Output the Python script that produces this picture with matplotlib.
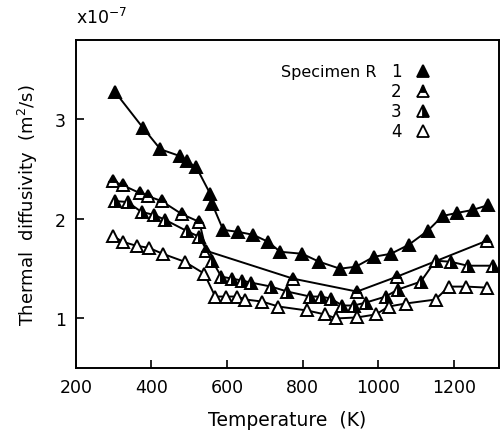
import numpy as np
import matplotlib.pyplot as plt

plt.rcParams['font.family'] = ['DejaVu Sans']

# thermal diffusivity (x1e-7 m^2/s) vs temperature (K) for four specimens
t1 = [303, 379, 424, 477, 493, 519, 556, 561, 590, 630, 670, 709, 741, 799, 844,
      899, 941, 989, 1034, 1081, 1131, 1171, 1208, 1250, 1292]
d1 = [3.28, 2.91, 2.70, 2.63, 2.58, 2.52, 2.25, 2.15, 1.89, 1.87, 1.84, 1.77, 1.67,
      1.65, 1.57, 1.50, 1.52, 1.62, 1.65, 1.74, 1.88, 2.03, 2.06, 2.09, 2.14]

t2 = [298, 324, 369, 390, 427, 480, 527, 545, 775, 944, 1050, 1287]
d2 = [2.38, 2.34, 2.26, 2.23, 2.18, 2.05, 1.97, 1.68, 1.40, 1.27, 1.42, 1.78]

t3 = [303, 337, 374, 408, 437, 493, 527, 561, 585, 614, 641, 664, 717, 760, 820,
      849, 875, 905, 936, 968, 1020, 1052, 1113, 1152, 1192, 1237, 1305]
d3 = [2.18, 2.17, 2.07, 2.04, 1.99, 1.88, 1.82, 1.58, 1.42, 1.40, 1.38, 1.36, 1.32,
      1.27, 1.22, 1.22, 1.20, 1.13, 1.13, 1.16, 1.22, 1.29, 1.37, 1.58, 1.57, 1.53, 1.53]

t4 = [298, 324, 361, 393, 430, 488, 540, 569, 598, 627, 649, 693, 736, 812, 860,
      889, 944, 994, 1028, 1073, 1152, 1187, 1234, 1287]
d4 = [1.83, 1.77, 1.73, 1.71, 1.65, 1.57, 1.45, 1.22, 1.22, 1.22, 1.19, 1.17, 1.12,
      1.08, 1.04, 1.00, 1.01, 1.04, 1.12, 1.15, 1.19, 1.32, 1.32, 1.31]

specimens = ['1', '2', '3', '4']
fills = ['full', 'top', 'right', 'none']


def marker_style(fs):
    if fs == 'none':
        return dict(markerfacecolor='white')
    return dict(fillstyle=fs, markerfacecolor='black', markerfacecoloralt='white')


fig = plt.figure(figsize=(5.02, 4.39), dpi=100)
ax = fig.add_axes([0.151, 0.159, 0.843, 0.748])

for t, d, fs in zip([t1, t2, t3, t4], [d1, d2, d3, d4], fills):
    ax.plot(t, d, color='black', lw=1.4, marker='^', ms=9,
            markeredgecolor='black', markeredgewidth=1.4, **marker_style(fs))

ax.set_xlim(200, 1320)
ax.set_ylim(0.5, 3.8)
ax.set_xticks([200, 400, 600, 800, 1000, 1200])
ax.set_yticks([1, 2, 3])
ax.tick_params(direction='in', length=6, width=1.2, labelsize=12.5, pad=7)
for s in ax.spines.values():
    s.set_linewidth(1.4)

ax.set_xlabel('Temperature  (K)', fontsize=13.5, labelpad=10)
ax.set_ylabel('Thermal  diffusivity  (m$^2$/s)', fontsize=13, labelpad=11)
ax.text(0.0, 1.04, 'x10$^{-7}$', transform=ax.transAxes, fontsize=12.5,
        ha='left', va='bottom')

# key
ax.text(0.485, 0.905, 'Specimen R', transform=ax.transAxes, fontsize=11.5,
        ha='left', va='center')
rows = [0.905, 0.845, 0.784, 0.723]
for lab, fs, y in zip(specimens, fills, rows):
    ax.text(0.757, y, lab, transform=ax.transAxes, fontsize=12,
            ha='center', va='center')
    ax.plot([0.820], [y], transform=ax.transAxes, marker='^', ms=8,
            markeredgecolor='black', markeredgewidth=1.3, ls='none',
            **marker_style(fs))

fig.savefig('out.png', dpi=100)
